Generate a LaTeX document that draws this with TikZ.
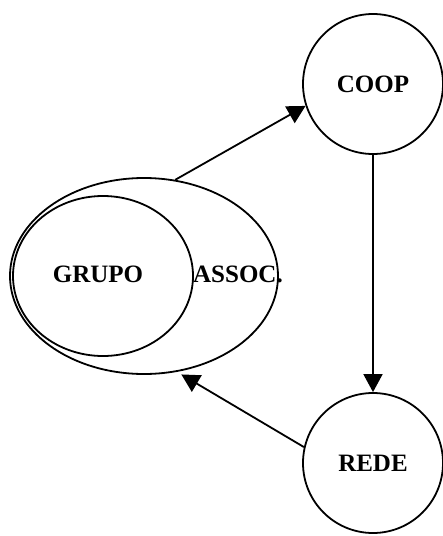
\documentclass[tikz,border=0pt]{standalone}
\usepackage{fontspec}
\setmainfont{Liberation Serif}
\usepackage{tikz}
\usetikzlibrary{shapes,arrows,arrows.meta,positioning,fit,calc}

\begin{document}
\begin{tikzpicture}[x=0.5pt,y=-0.5pt,line width=0.9pt,
        font=\fontsize{12.5}{14}\selectfont\bfseries,
        roda/.style={circle,draw,minimum size=70pt,inner sep=0pt},
        oval/.style={ellipse,draw,inner sep=0pt},
        seta/.style={-{Triangle[length=9pt,width=9.5pt]}}]
            % Moldura da figura
            \useasboundingbox (0,0) rectangle (443,536);

            % Elipses (associação e grupo)
            \node[oval, minimum width=134pt, minimum height=98pt] (assoc) at (144,276) {};
            \node[oval, minimum width=90pt, minimum height=80pt] (grupo) at (103,276) {};

            % Círculos
            \node[roda] (coop) at (373,84) {COOP};
            \node[roda] (rede) at (373,463) {REDE};

            % Textos
            \node (tgrupo) at (98,274) {GRUPO};
            \node (tassoc) at (238,274) {ASSOC.};

            % Setas
            \draw[seta] (assoc.72) -- (coop.198);
            \draw[seta] (coop.south) -- (rede.north);
            \draw[seta, shorten >=2.5pt] (rede.167) -- (assoc.-71);
        \end{tikzpicture}
\end{document}
